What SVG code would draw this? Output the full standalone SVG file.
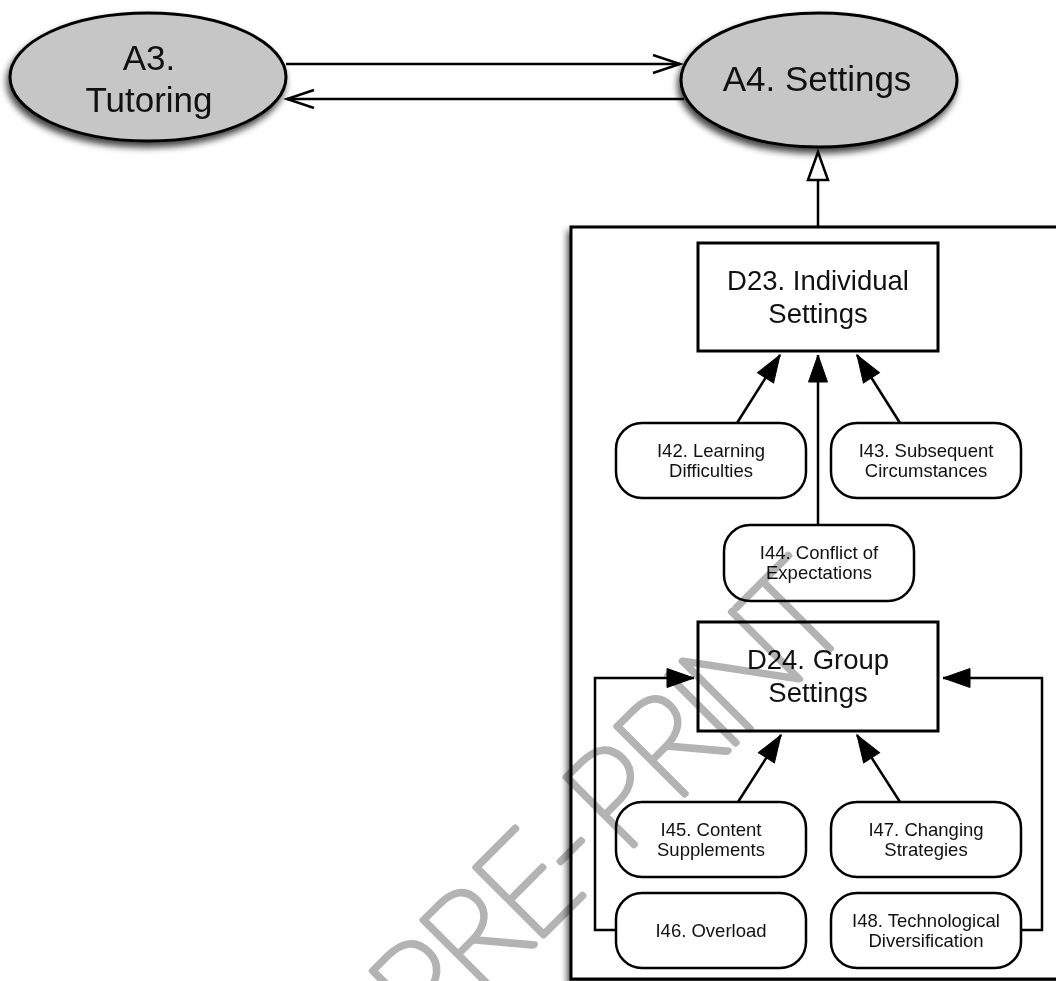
<svg xmlns="http://www.w3.org/2000/svg" width="1056" height="981" viewBox="0 0 1056 981">
  <defs>
    <style>
      .lbl { font-family: "Liberation Sans", Arial, sans-serif; fill: #111; text-anchor: middle; }
      .big { font-size: 35px; }
      .mid { font-size: 27.5px; }
      .sm { font-size: 18.5px; }
      .oval { fill: #c6c6c6; stroke: #000; stroke-width: 3; }
      .box { fill: #fff; stroke: #000; stroke-width: 3; }
      .pill { fill: #fff; stroke: #000; stroke-width: 2.5; }
      .edge { fill: none; stroke: #000; stroke-width: 2.5; }
    </style>
    <filter id="shadow" x="-20%" y="-20%" width="140%" height="150%">
      <feGaussianBlur in="SourceAlpha" stdDeviation="3.5"/>
      <feOffset dx="-2" dy="5" result="blur"/>
      <feComponentTransfer><feFuncA type="linear" slope="0.75"/></feComponentTransfer>
      <feMerge><feMergeNode/><feMergeNode in="SourceGraphic"/></feMerge>
    </filter>
    <marker id="solid" markerUnits="userSpaceOnUse" markerWidth="30" markerHeight="24" refX="28" refY="10.5" orient="auto">
      <path d="M1,1 L28,10.5 L1,20 z" fill="#000" stroke="#000" stroke-width="1"/>
    </marker>
    <marker id="open" markerUnits="userSpaceOnUse" markerWidth="32" markerHeight="24" refX="28" refY="10" orient="auto">
      <path d="M1,1 L28,10 L1,19" fill="none" stroke="#000" stroke-width="2.5"/>
    </marker>
  </defs>

  <rect width="1056" height="981" fill="#fff"/>

  <!-- package frame -->
  <g id="frame">
    <rect x="571" y="227" width="520" height="752" fill="#fff" stroke="#000" stroke-width="3" filter="url(#shadow)"/>
  </g>

  <!-- connectors -->
  <g id="connectors">
    <line class="edge" x1="286" y1="64" x2="680" y2="64" marker-end="url(#open)"/>
    <line class="edge" x1="684" y1="99" x2="287" y2="99" marker-end="url(#open)"/>
    <line class="edge" x1="818" y1="227" x2="818" y2="180"/>
    <polygon points="818,152 808,180 828,180" fill="#fff" stroke="#000" stroke-width="2.5" stroke-linejoin="miter"/>
    <line class="edge" x1="737" y1="423" x2="780" y2="355" marker-end="url(#solid)"/>
    <line class="edge" x1="900" y1="423" x2="857" y2="355" marker-end="url(#solid)"/>
    <line class="edge" x1="818" y1="525" x2="818" y2="355" marker-end="url(#solid)"/>
    <line class="edge" x1="738" y1="802" x2="781" y2="735" marker-end="url(#solid)"/>
    <line class="edge" x1="900" y1="802" x2="857" y2="735" marker-end="url(#solid)"/>
    <path class="edge" d="M616,930 H595 V678 H694" marker-end="url(#solid)"/>
    <path class="edge" d="M1021,930 H1042 V678 H943" marker-end="url(#solid)"/>
  </g>

  <g id="A3">
    <ellipse class="oval" cx="148" cy="77" rx="138" ry="64" filter="url(#shadow)"/>
    <text class="lbl big" x="149" y="70">A3.</text>
    <text class="lbl big" x="149" y="112">Tutoring</text>
  </g>

  <g id="A4">
    <ellipse class="oval" cx="819" cy="80" rx="138" ry="67" filter="url(#shadow)"/>
    <text class="lbl big" x="817" y="91">A4. Settings</text>
  </g>

  <g id="D23">
    <rect class="box" x="698" y="243" width="240" height="108"/>
    <text class="lbl mid" x="818" y="290">D23. Individual</text>
    <text class="lbl mid" x="818" y="323">Settings</text>
  </g>

  <g id="I42">
    <rect class="pill" x="616" y="423" width="190" height="75" rx="26"/>
    <text class="lbl sm" x="711" y="457">I42. Learning</text>
    <text class="lbl sm" x="711" y="477">Difficulties</text>
  </g>

  <g id="I43">
    <rect class="pill" x="831" y="423" width="190" height="75" rx="26"/>
    <text class="lbl sm" x="926" y="457">I43. Subsequent</text>
    <text class="lbl sm" x="926" y="477">Circumstances</text>
  </g>

  <g id="I44">
    <rect class="pill" x="724" y="525" width="190" height="76" rx="26"/>
    <text class="lbl sm" x="819" y="559">I44. Conflict of</text>
    <text class="lbl sm" x="819" y="579">Expectations</text>
  </g>

  <g id="D24">
    <rect class="box" x="698" y="622" width="240" height="109"/>
    <text class="lbl mid" x="818" y="669">D24. Group</text>
    <text class="lbl mid" x="818" y="702">Settings</text>
  </g>

  <g id="I45">
    <rect class="pill" x="616" y="802" width="190" height="75" rx="26"/>
    <text class="lbl sm" x="711" y="836">I45. Content</text>
    <text class="lbl sm" x="711" y="856">Supplements</text>
  </g>

  <g id="I47">
    <rect class="pill" x="831" y="802" width="190" height="75" rx="26"/>
    <text class="lbl sm" x="926" y="836">I47. Changing</text>
    <text class="lbl sm" x="926" y="856">Strategies</text>
  </g>

  <g id="I46">
    <rect class="pill" x="616" y="893" width="190" height="75" rx="26"/>
    <text class="lbl sm" x="711" y="937">I46. Overload</text>
  </g>

  <g id="I48">
    <rect class="pill" x="831" y="893" width="190" height="75" rx="26"/>
    <text class="lbl sm" x="926" y="927">I48. Technological</text>
    <text class="lbl sm" x="926" y="947">Diversification</text>
  </g>

  <!-- diagonal watermark -->
  <g id="watermark" transform="rotate(-45)" style="mix-blend-mode:multiply">
    <text x="-401 -327 -253 -198 -127 -53 -5 50 128" y="1046" font-family="Lato, 'DejaVu Sans', sans-serif" font-weight="100" font-size="138" fill="#b3b3b3" stroke="#b3b3b3" stroke-width="6" stroke-linejoin="round" stroke-linecap="round" text-anchor="middle">PRE-PRINT</text>
  </g>
</svg>
